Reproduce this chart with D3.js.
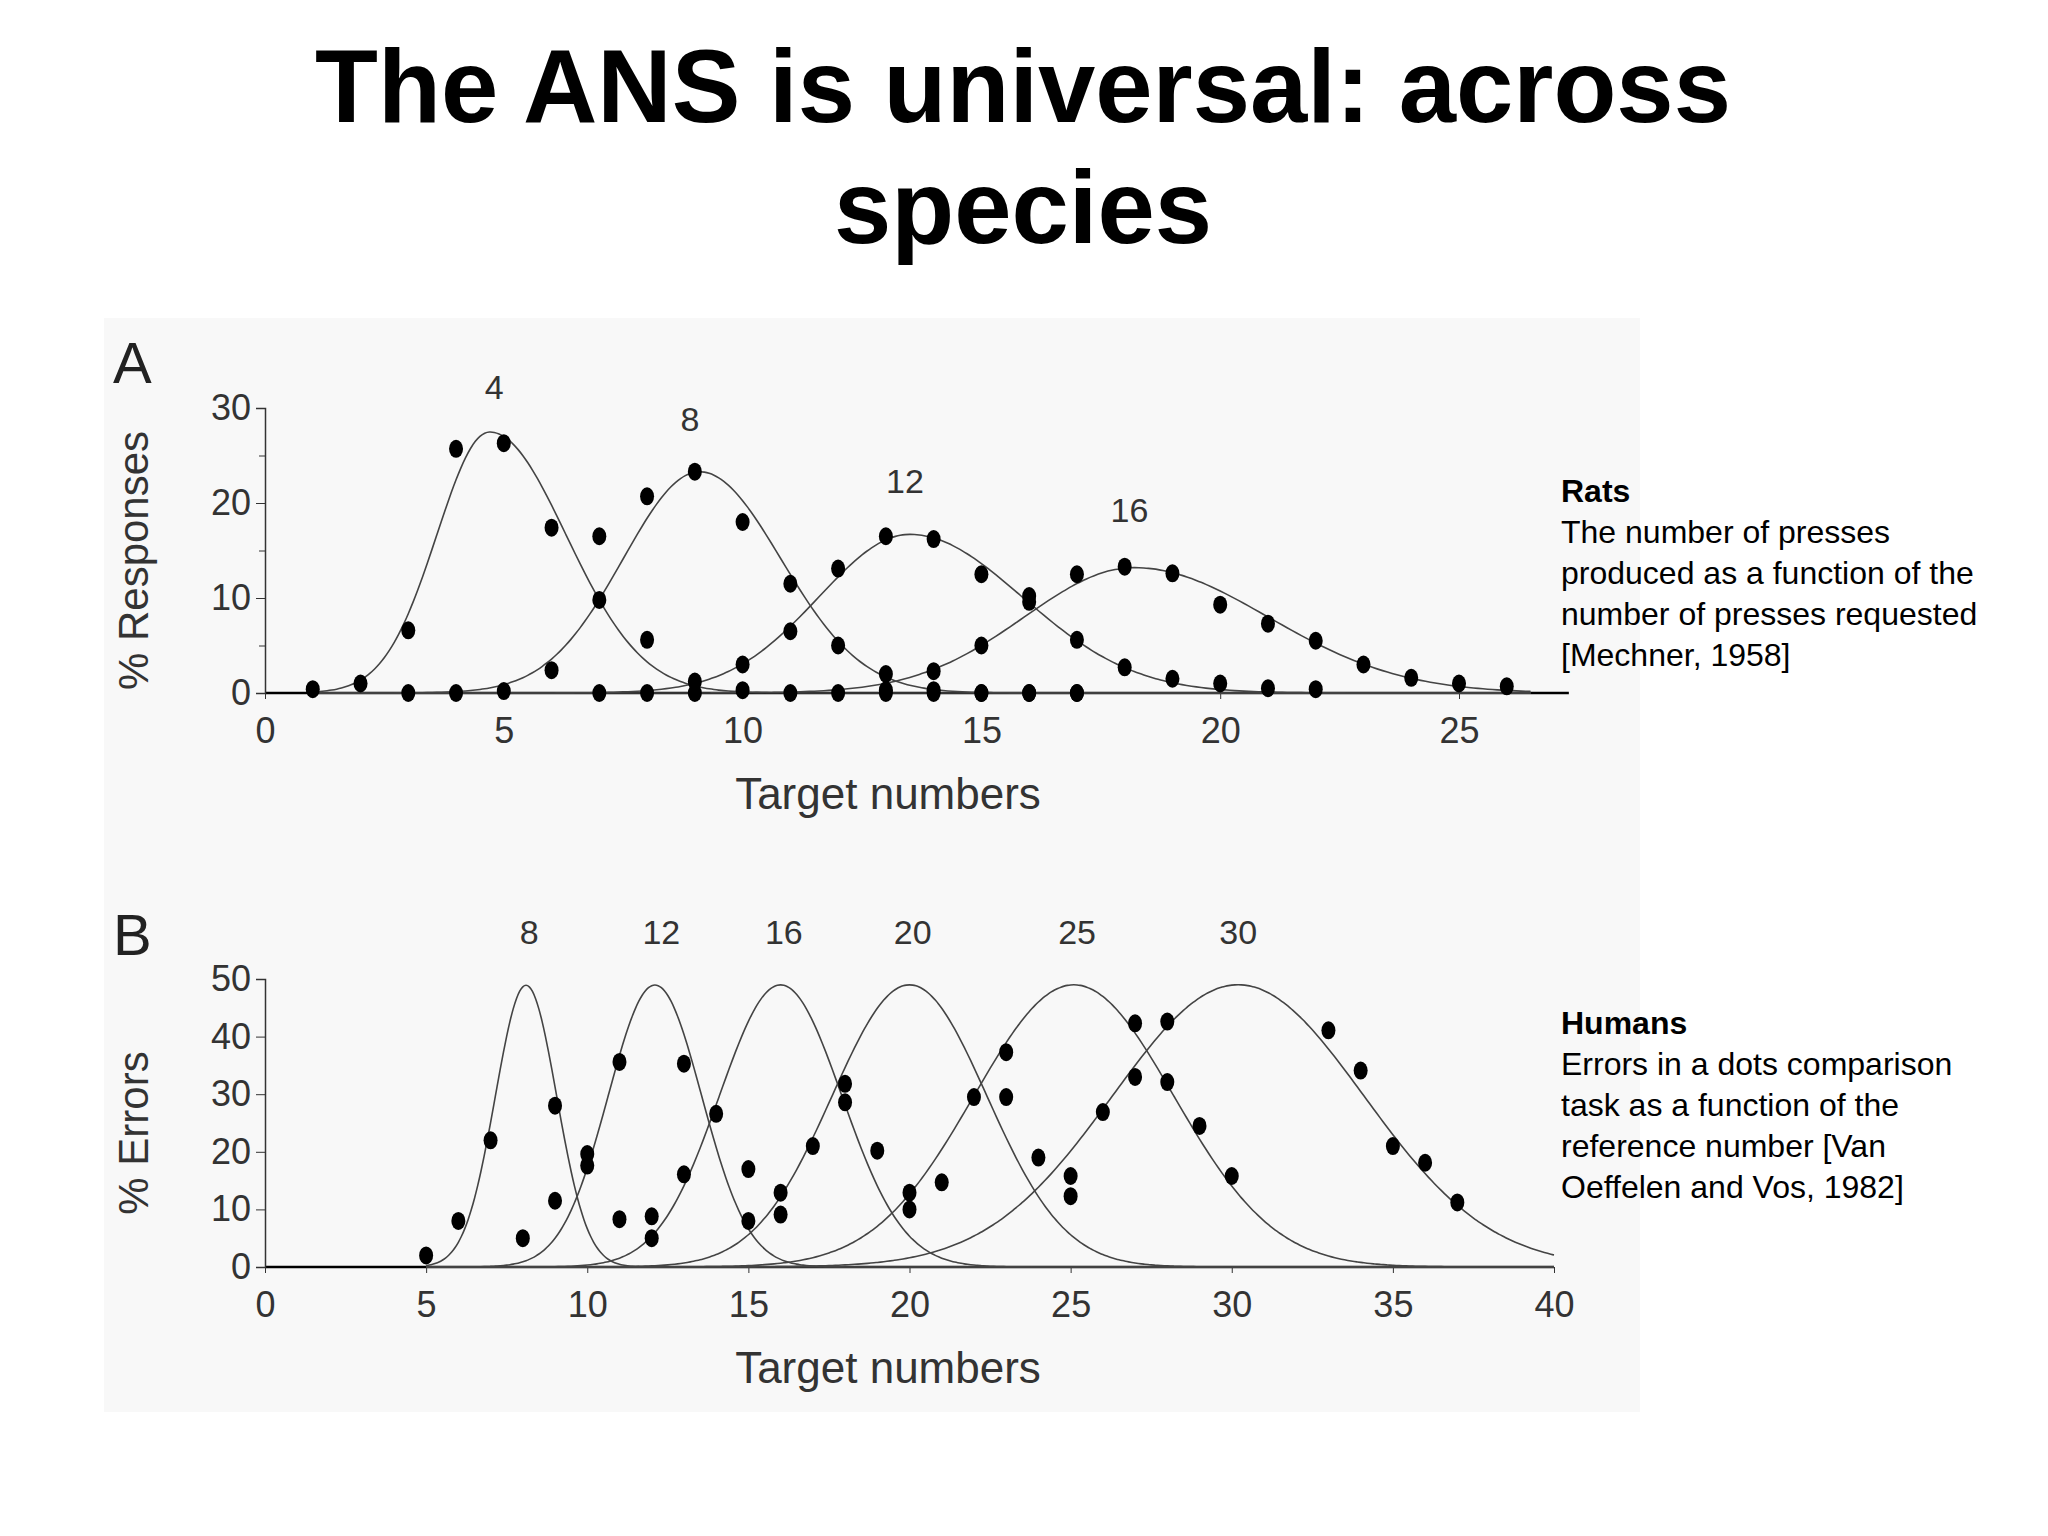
<!DOCTYPE html>
<html><head><meta charset="utf-8">
<script src="https://cdn.jsdelivr.net/npm/d3@7/dist/d3.min.js"></script>
<style>body{margin:0;background:#fff}</style></head>
<body><svg id="c" width="2048" height="1536"></svg>
<script>
// ---- Panel A (rats) data ----
const ratsSeries = ["4","8","12","16"];
const ratsX4 = [1,2,3,4,5,6,7,8,9,10,11,12,13,14,15,16,17];
const ratsY4 = [0.4,1,6.6,25.7,26.3,17.4,9.8,5.6,1.2,0.3,0,0,0,0,0,0,0];
const ratsX8 = [3,4,5,6,7,8,9,10,11,12,13,14,15,16,17];
const ratsY8 = [0,0,0.2,2.4,16.5,20.7,23.3,18,11.5,5,2,0.3,0,0,0];
const ratsX12 = [7,8,9,10,11,12,13,14,15,16,17,18,19,20,21,22];
const ratsY12 = [0,0,0,3,6.5,13.1,16.5,16.2,12.5,10.2,5.6,2.7,1.5,1,0.5,0.4];
const ratsX16 = [13,14,15,16,17,18,19,20,21,22,23,24,25,26];
const ratsY16 = [0.3,2.3,5,9.6,12.5,13.3,12.6,9.3,7.3,5.5,3,1.6,1,0.7];
// fitted curve parameters: peak position, height, left/right spread
const ratsPeakX = [4.7,9.1,13.5,18.2];
const ratsPeakY = [27.5,23.3,16.7,13.2];
const ratsSdL = [1.1,1.6,1.9,2.3];
const ratsSdR = [1.6,1.7,2.35,2.8];
const ratsLabelX = [4.8,8.9,13.4,18.1];
const ratsLabelY = [31.0,27.6,21.1,18.0];
const ticksAX = [0,5,10,15,20,25];
const ticksAY = [0,10,20,30];

// ---- Panel B (humans) data ----
const humSeries = ["8","12","16","20","25","30"];
const humX = [5,6,7,8,9,9,10,10,11,11,12,12,13,13,14,15,15,16,16,17,18,18,19,20,20,21,22,23,23,24,25,25,26,27,27,28,28,29,30,33,34,35,36,37];
const humY = [2,8,22,5,28,11.5,19.6,17.6,35.6,8.3,8.8,5,35.3,16.1,26.6,17,8,12.9,9.1,21,31.8,28.6,20.2,12.9,10,14.7,29.5,37.3,29.5,19,15.8,12.3,26.9,42.3,33,42.6,32.1,24.5,15.8,41.1,34.1,21,18.1,11.2];
const humPeakX = [8.1,12.1,16,20,25.1,30.2];
const humPeakY = [49,49,49,49,49,49];
const humSd = [0.95,1.45,1.9,2.4,3.1,3.9];
const humLabelX = [8.2,12.3,16.1,20.1,25.2,30.2];
const humLabelY = [56,56,56,56,56,56];
const ticksBX = [0,5,10,15,20,25,30,35,40];
const ticksBY = [0,10,20,30,40,50];

const svg = d3.select("#c");
svg.append("rect").attr("x",104).attr("y",318).attr("width",1536).attr("height",1094).attr("fill","#f8f8f8");

svg.append("text").attr("x",1023).attr("y",122).attr("text-anchor","middle")
  .attr("font-family","Liberation Sans, Arial").attr("font-weight","bold").attr("font-size",103).text("The ANS is universal: across");
svg.append("text").attr("x",1023).attr("y",243).attr("text-anchor","middle")
  .attr("font-family","Liberation Sans, Arial").attr("font-weight","bold").attr("font-size",103).text("species");

const tickFont = "Liberation Sans Narrow, Liberation Sans, Arial";

function panel(o){
  const x = d3.scaleLinear().domain(o.xd).range([o.x0,o.x1]);
  const y = d3.scaleLinear().domain(o.yd).range([o.y0,o.y1]);
  const g = svg.append("g");
  const ax = g.append("g").attr("transform",`translate(0,${o.y0})`)
    .call(d3.axisBottom(x).tickValues(o.tx).tickSize(6).tickFormat(d3.format("d")));
  ax.select(".domain").attr("stroke","#000").attr("stroke-width",2.5).attr("d",`M${o.x0},0H${x(o.xend)}`);
  const ay = g.append("g").attr("transform",`translate(${o.x0},0)`)
    .call(d3.axisLeft(y).tickValues(o.ty).tickSize(9).tickFormat(d3.format("d")));
  if(o.minor) g.append("g").attr("transform",`translate(${o.x0},0)`)
    .call(d3.axisLeft(y).tickValues(o.minor).tickSize(6).tickFormat("")).select(".domain").remove();
  ay.select(".domain").attr("stroke","#333").attr("stroke-width",1.5);
  g.selectAll(".tick text").attr("font-family",tickFont).attr("font-size",36).attr("fill","#333");
  ax.selectAll(".tick text").attr("dy","1.15em");
  ay.selectAll(".tick text").attr("dx","-2");
  g.selectAll(".tick line").attr("stroke","#333");
  const line = d3.line().x(d=>x(d[0])).y(d=>y(d[1])).curve(d3.curveBasis);
  o.px.forEach((px,i)=>{
    const pts = d3.range(o.cx0, o.cx1+0.001, 0.1).map(t=>{
      const sd = t<px ? o.sdL[i] : o.sdR[i];
      return [t, o.py[i]*Math.exp(-0.5*((t-px)/sd)**2)];
    });
    g.append("path").attr("d",line(pts)).attr("fill","none").attr("stroke","#444").attr("stroke-width",1.6);
    g.append("text").attr("x",x(o.lx[i])).attr("y",y(o.ly[i])).attr("text-anchor","middle")
      .attr("font-family",tickFont).attr("font-size",34).attr("fill","#333").text(o.names[i]);
  });
  o.pts.forEach(p=>{
    g.append("ellipse").attr("cx",x(p[0])).attr("cy",y(p[1])).attr("rx",7).attr("ry",9).attr("fill","#000");
  });
  g.append("text").attr("x",o.letterX).attr("y",o.letterY).attr("font-family","Liberation Sans, Arial")
    .attr("font-size",58).attr("fill","#222").text(o.letter);
  g.append("text").attr("x",888).attr("y",o.y0+116).attr("text-anchor","middle")
    .attr("font-family",tickFont).attr("font-size",44).attr("fill","#333").text("Target numbers");
  g.append("text").attr("transform",`translate(148,${(o.y0+o.y1)/2+10}) rotate(-90)`).attr("text-anchor","middle")
    .attr("font-family","Liberation Sans, Arial").attr("font-size",42).attr("fill","#333").text(o.ylab);
}

const ptsA = [];
[[ratsX4,ratsY4],[ratsX8,ratsY8],[ratsX12,ratsY12],[ratsX16,ratsY16]].forEach(s=>s[0].forEach((v,i)=>ptsA.push([v,s[1][i]])));
panel({xd:[0,25],yd:[0,30],x0:265,x1:1459,y0:693,y1:408,xend:27.3,tx:ticksAX,ty:ticksAY,minor:[5,15,25],
  px:ratsPeakX,py:ratsPeakY,sdL:ratsSdL,sdR:ratsSdR,cx0:1,cx1:26.5,lx:ratsLabelX,ly:ratsLabelY,names:ratsSeries,
  pts:ptsA,letter:"A",letterX:113,letterY:383,ylab:"% Responses"});
panel({xd:[0,40],yd:[0,50],x0:265,x1:1554,y0:1267,y1:979,xend:40,tx:ticksBX,ty:ticksBY,
  px:humPeakX,py:humPeakY,sdL:humSd,sdR:humSd,cx0:5,cx1:40,lx:humLabelX,ly:humLabelY,names:humSeries,
  pts:humX.map((v,i)=>[v,humY[i]]),letter:"B",letterX:113,letterY:955,ylab:"% Errors"});

function note(yy, head, lines){
  const t = svg.append("text").attr("font-family","Liberation Sans, Arial").attr("font-size",32).attr("fill","#000");
  t.append("tspan").attr("x",1561).attr("y",yy).attr("font-weight","bold").text(head);
  lines.forEach((l,i)=>t.append("tspan").attr("x",1561).attr("y",yy+41*(i+1)).text(l));
}
note(502,"Rats",["The number of presses","produced as a function of the","number of presses requested","[Mechner, 1958]"]);
note(1034,"Humans",["Errors in a dots comparison","task as a function of the","reference number [Van","Oeffelen and Vos, 1982]"]);
</script></body></html>
